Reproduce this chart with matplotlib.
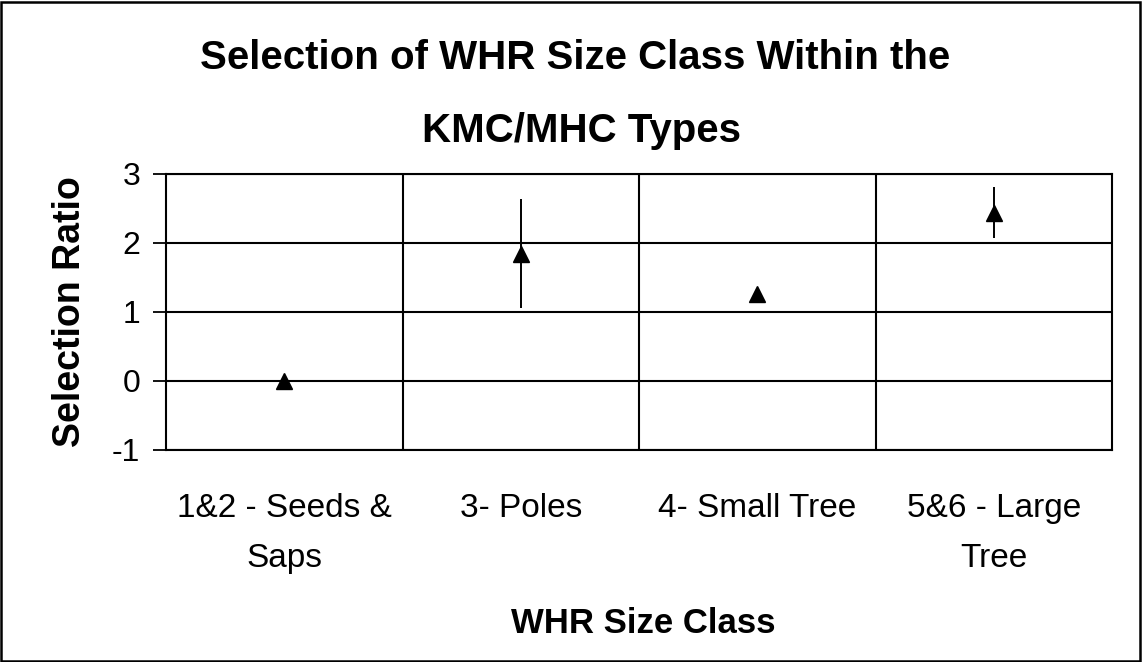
import matplotlib
matplotlib.use("Agg")
import matplotlib.pyplot as plt
from matplotlib.patches import Rectangle
import numpy as np

categories = ["1&2 - Seeds &\nSaps", "3- Poles", "4- Small Tree", "5&6 - Large\nTree"]
ratios = [0.0, 1.84, 1.26, 2.44]
errors = [0.0, 0.79, 0.08, 0.37]
y_ticks = [-1, 0, 1, 2, 3]
title_lines = ["Selection of WHR Size Class Within the", "KMC/MHC Types"]

plt.rcParams['font.family'] = ['Liberation Sans', 'DejaVu Sans']

W, H = 1142, 662
fig = plt.figure(figsize=(W / 100, H / 100), dpi=100)
ax = fig.add_axes([166 / W, 1 - 449.5 / H, (1112 - 166) / W, (449.5 - 174) / H])

x = np.arange(len(categories))
ax.errorbar(x, ratios, yerr=errors, fmt='^', color='black', ms=12,
            elinewidth=1.4, capsize=0, zorder=3)

ax.set_xlim(-0.5, len(categories) - 0.5)
ax.set_ylim(-1, 3)
ax.set_yticks(y_ticks)
ax.set_yticklabels([str(t) for t in y_ticks], fontsize=23)
ax.set_xticks(x)
ax.set_xticklabels(categories, fontsize=24, linespacing=1.83)
ax.tick_params(axis='x', length=0, pad=31)
ax.tick_params(axis='y', length=9.5, width=1.3, direction='out', pad=9)

for yv in y_ticks:
    ax.axhline(yv, color='black', lw=1.5, zorder=1)
for xv in np.arange(0.5, len(categories) - 0.5, 1):
    ax.axvline(xv, color='black', lw=1.5, zorder=1)
for s in ax.spines.values():
    s.set_linewidth(1.5)

ax.set_ylabel("Selection Ratio", fontsize=27, fontweight='bold', labelpad=17)

fig.text(643 / W, 1 - 633 / H, "WHR Size Class", ha='center', va='baseline',
         fontsize=25, fontweight='bold')

fig.text(575 / W, 1 - 69 / H, title_lines[0], ha='center', va='baseline',
         fontsize=29, fontweight='bold')
fig.text(581 / W, 1 - 142 / H, title_lines[1], ha='center', va='baseline',
         fontsize=29, fontweight='bold')

fig.patches.append(Rectangle((0.001, 0.0015), 0.997, 0.996, transform=fig.transFigure,
                             fill=False, edgecolor='black', lw=1.8))

fig.savefig("out.png", dpi=100)
